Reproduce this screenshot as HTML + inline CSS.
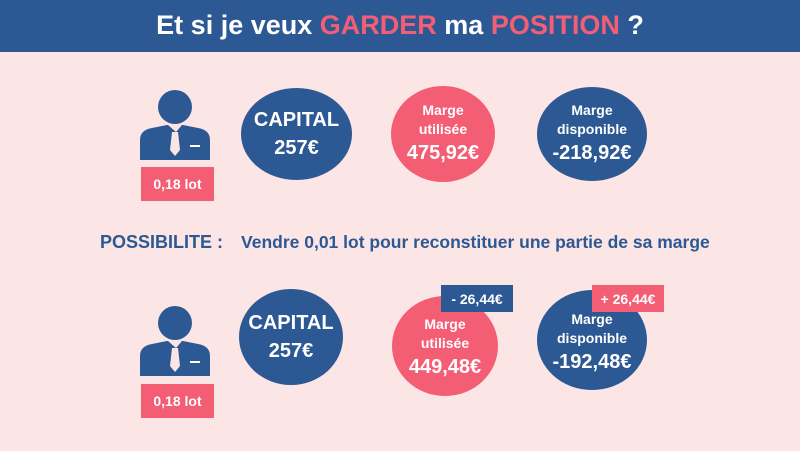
<!DOCTYPE html>
<html><head><meta charset="utf-8"><style>
body{margin:0;width:800px;height:451px;overflow:hidden;background:#fbe5e5;font-family:"Liberation Sans",sans-serif;position:relative}
.hdr{position:absolute;left:0;top:0;width:800px;height:52px;background:#2c5993;color:#fff;font-weight:bold;font-size:27px;text-align:center;line-height:50px}
.hdr span{color:#f45e74}
.el{position:absolute;border-radius:50%;color:#fff;font-weight:bold;text-align:center;display:flex;flex-direction:column;justify-content:center;align-items:center}
.b{background:#2c5993}.p{background:#f45e74}
.sm{font-size:14px;line-height:19px}.big{font-size:20px;line-height:28px}
.box{position:absolute;color:#fff;font-weight:bold;font-size:14px;display:flex;align-items:center;justify-content:center}
.t{position:absolute;color:#2c5993;font-weight:bold;white-space:nowrap}
</style></head><body>
<div class="hdr">Et si je veux <span>GARDER</span> ma <span>POSITION</span> ?</div>

<svg style="position:absolute;left:138px;top:88px" width="74" height="75" viewBox="0 0 74 75">
<circle cx="37" cy="19" r="17" fill="#2c5993"/>
<path d="M2 72 L2 52 Q2 42 14 40 L29 37 L45 37 L60 40 Q72 42 72 52 L72 72 Z" fill="#2c5993"/>
<path d="M30 37 L44 37 L38 44 Z" fill="#fbe5e5"/>
<path d="M34 44 L40 44 L42 62 L37 68 L32 62 Z" fill="#fbe5e5"/>
<rect x="52" y="57" width="10" height="2" fill="#fff"/>
</svg>
<div class="box p" style="left:141px;top:167px;width:73px;height:34px">0,18 lot</div>
<div class="el b" style="left:241px;top:88px;width:111px;height:92px"><div class="big">CAPITAL</div><div class="big">257€</div></div>
<div class="el p" style="left:391px;top:86px;width:104px;height:96px"><div class="sm">Marge</div><div class="sm">utilisée</div><div class="big">475,92€</div></div>
<div class="el b" style="left:537px;top:87px;width:110px;height:94px"><div class="sm">Marge</div><div class="sm">disponible</div><div class="big">-218,92€</div></div>

<div class="t" style="left:100px;top:232px;font-size:18px">POSSIBILITE :</div>
<div class="t" style="left:241px;top:232px;font-size:17.5px">Vendre 0,01 lot pour reconstituer une partie de sa marge</div>

<svg style="position:absolute;left:138px;top:304px" width="74" height="75" viewBox="0 0 74 75">
<circle cx="37" cy="19" r="17" fill="#2c5993"/>
<path d="M2 72 L2 52 Q2 42 14 40 L29 37 L45 37 L60 40 Q72 42 72 52 L72 72 Z" fill="#2c5993"/>
<path d="M30 37 L44 37 L38 44 Z" fill="#fbe5e5"/>
<path d="M34 44 L40 44 L42 62 L37 68 L32 62 Z" fill="#fbe5e5"/>
<rect x="52" y="57" width="10" height="2" fill="#fff"/>
</svg>
<div class="box p" style="left:141px;top:384px;width:73px;height:34px">0,18 lot</div>
<div class="el b" style="left:239px;top:289px;width:104px;height:96px"><div class="big">CAPITAL</div><div class="big">257€</div></div>
<div class="el p" style="left:392px;top:296px;width:106px;height:100px;padding-top:4px;box-sizing:border-box"><div class="sm">Marge</div><div class="sm">utilisée</div><div class="big">449,48€</div></div>
<div class="el b" style="left:537px;top:290px;width:110px;height:100px;padding-top:6px;box-sizing:border-box"><div class="sm">Marge</div><div class="sm">disponible</div><div class="big">-192,48€</div></div>
<div class="box b" style="left:441px;top:285px;width:72px;height:27px">- 26,44€</div>
<div class="box p" style="left:592px;top:285px;width:72px;height:27px">+ 26,44€</div>
</body></html>
